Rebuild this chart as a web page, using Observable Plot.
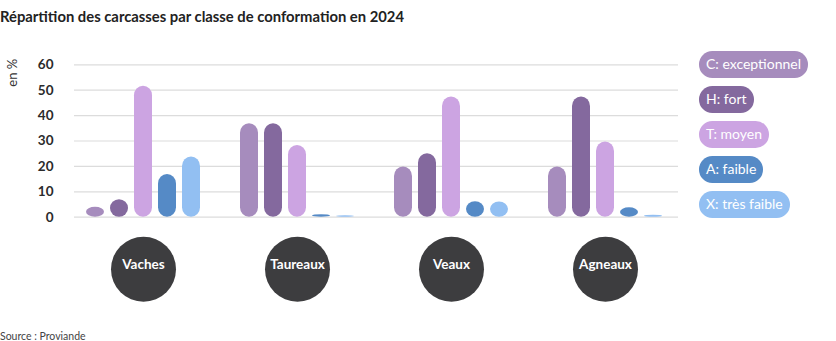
<!DOCTYPE html>
<html>
<head>
<meta charset="utf-8">
<script src="https://cdn.jsdelivr.net/npm/d3@7"></script>
<script src="https://cdn.jsdelivr.net/npm/@observablehq/plot@0.6"></script>
<style>
  html, body { margin: 0; padding: 0; background: #fff; }
  #wrap { position: relative; width: 836px; height: 341px; overflow: hidden; font-family: Lato, "Open Sans", sans-serif; }
  #wrap svg { position: absolute; left: 0; top: 0; }
  #title { position: absolute; left: 0; top: 7px; font-size: 14.8px; font-weight: bold; color: #222; white-space: nowrap; }
  #source { position: absolute; left: 0; top: 330px; font-size: 10.5px; color: #444; white-space: nowrap; }
  #legend { position: absolute; left: 699px; top: 51px; }
  .pill { display: block; width: max-content; height: 26.6px; line-height: 26.6px; border-radius: 13.3px; padding: 0 7px; color: #fff; font-size: 14px; margin-bottom: 8.4px; }
</style>
</head>
<body>
<div id="wrap">
  <div id="title">Répartition des carcasses par classe de conformation en 2024</div>
  <div id="legend"></div>
  <div id="source">Source : Proviande</div>
</div>
<script>
const groups = ["Vaches", "Taureaux", "Veaux", "Agneaux"];
const codes = ["C", "H", "T", "A", "X"];
const classLabels = ["C: exceptionnel", "H: fort", "T: moyen", "A: faible", "X: très faible"];
const colors = ["#a68cbd", "#84699e", "#cca4e2", "#558ac6", "#92bff2"];
const vaches = [3.9, 6.9, 51.6, 16.8, 23.7];
const taureaux = [36.8, 36.8, 28.2, 1.0, 0.6];
const veaux = [19.8, 25.0, 47.3, 6.1, 6.0];
const agneaux = [19.8, 47.3, 29.6, 3.7, 0.8];
const yTicks = [0, 10, 20, 30, 40, 50, 60];

const series = [vaches, taureaux, veaux, agneaux];
const data = groups.flatMap((g, i) => codes.map((c, j) => ({group: g, code: c, value: series[i][j]})));

const common = {
  width: 836,
  height: 341,
  marginLeft: 74,
  marginRight: 158,
  marginTop: 64.3,
  marginBottom: 124.3,
  style: {fontFamily: "Lato, 'Open Sans', sans-serif", background: "transparent", overflow: "visible"}
};

// background: y axis, gridlines, unit label
const back = Plot.plot({
  ...common,
  x: {axis: null},
  y: {domain: [0, 60], axis: null},
  marks: [
    Plot.ruleY(yTicks, {stroke: "#dcdcdc", strokeWidth: 1.2}),
    Plot.axisY({ticks: yTicks, tickSize: 0, tickPadding: 21, fontSize: 13.5, fontWeight: "bold", fill: "#2b2b2b", label: null}),
    Plot.text(["en %"], {frameAnchor: "top-left", rotate: -90, textAnchor: "end", dx: -67, dy: -6, fontSize: 13, fill: "#333"})
  ]
});

// foreground: faceted bars and group badges
const front = Plot.plot({
  ...common,
  fx: {domain: groups, paddingInner: 0.1677, paddingOuter: 0.0323, axis: null, range: [72.5, 676.5]},
  x: {domain: codes, paddingInner: 0.24, paddingOuter: 0.2, axis: null},
  y: {domain: [0, 60], axis: null},
  color: {domain: codes, range: colors},
  marks: [
    Plot.barY(data, {fx: "group", x: "code", y: "value", fill: "code", rx: 9.5}),
    Plot.dot(groups, {fx: d => d, frameAnchor: "bottom", dy: 52, r: 32.5, fill: "#3d3d3f"}),
    Plot.text(groups, {fx: d => d, text: d => d, frameAnchor: "bottom", dy: 52, fill: "#fff", fontSize: 13.5, fontWeight: "bold"})
  ]
});

const wrap = document.getElementById("wrap");
wrap.prepend(front);
wrap.prepend(back);

const legend = document.getElementById("legend");
classLabels.forEach((lab, i) => {
  const el = document.createElement("div");
  el.className = "pill";
  el.style.background = colors[i];
  el.textContent = lab;
  legend.appendChild(el);
});
</script>
</body>
</html>
